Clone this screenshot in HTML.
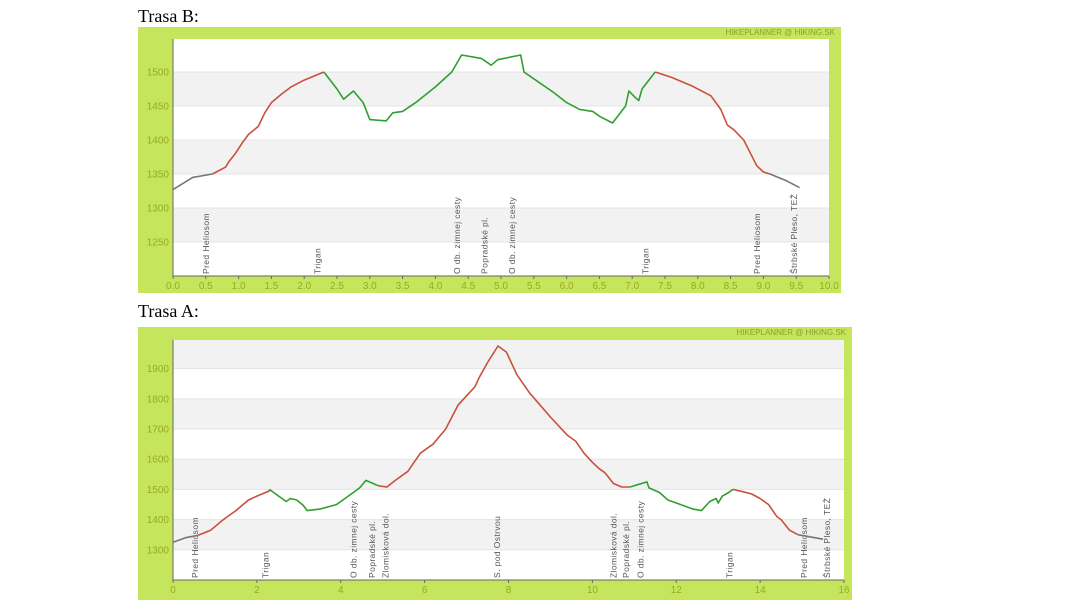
<!DOCTYPE html>
<html><head><meta charset="utf-8"><style>
html,body{margin:0;padding:0;background:#fff;width:1066px;height:600px;overflow:hidden}
svg{position:absolute;left:0;top:0}
</style></head><body>
<svg id="s" width="1066" height="600" xmlns="http://www.w3.org/2000/svg" font-family="Liberation Sans, DejaVu Sans, sans-serif"></svg>
<script>
var S=document.getElementById('s');var h='';
h+='<text x="138" y="22" font-family="Liberation Serif, serif" font-size="18" fill="#000">Trasa B:</text>';
h+='<text x="138" y="317" font-family="Liberation Serif, serif" font-size="18" fill="#000">Trasa A:</text>';
function chart(c){
 var X=function(k){return c.x0+k*(c.x1-c.x0)/c.kmax};
 var Y=function(v){return c.yb-(v-c.vmin)*(c.yb-c.yt)/(c.vmax-c.vmin)};
 h+='<rect x="'+c.fx0+'" y="'+c.fy0+'" width="'+(c.fx1-c.fx0)+'" height="'+(c.fy1-c.fy0)+'" fill="#c5e55c"/>';
 h+='<rect x="'+c.x0+'" y="'+c.yt+'" width="'+(c.x1-c.x0)+'" height="'+(c.yb-c.yt)+'" fill="#fff"/>';
 h+='<text x="'+(c.fx1-6)+'" y="'+(c.fy0+8)+'" font-size="8" fill="#8aa030" text-anchor="end">HIKEPLANNER @ HIKING.SK</text>';
 c.bands.forEach(function(b){h+='<rect x="'+c.x0+'" y="'+Y(b[1])+'" width="'+(c.x1-c.x0)+'" height="'+(Y(b[0])-Y(b[1]))+'" fill="#f2f2f2"/>';});
 c.yt_.forEach(function(v){var y=Y(v);h+='<line x1="'+c.x0+'" x2="'+c.x1+'" y1="'+y+'" y2="'+y+'" stroke="#e4e4e4"/>';
  h+='<text x="'+(c.x0-4)+'" y="'+(y+3.5)+'" font-size="10" fill="#9aaa20" text-anchor="end">'+v+'</text>';});
 h+='<line x1="'+c.x0+'" x2="'+c.x0+'" y1="'+c.yt+'" y2="'+c.yb+'" stroke="#666"/>';
 h+='<line x1="'+c.x0+'" x2="'+c.x1+'" y1="'+c.yb+'" y2="'+c.yb+'" stroke="#666"/>';
 c.xt.forEach(function(k){var x=X(k);h+='<line x1="'+x+'" x2="'+x+'" y1="'+c.yb+'" y2="'+(c.yb+3)+'" stroke="#666"/>';
  h+='<text x="'+x+'" y="'+(c.yb+13)+'" font-size="10" fill="#9aaa20" text-anchor="middle">'+(c.dec?k.toFixed(1):k)+'</text>';});
 c.labels.forEach(function(l){var x=X(l[0])+3;h+='<text transform="translate('+x+','+(c.yb-2)+') rotate(-90)" font-size="8.5" fill="#555" letter-spacing="0.4">'+l[1]+'</text>';});
 c.segs.forEach(function(sg){var p=sg[1].map(function(q){return X(q[0]).toFixed(1)+','+Y(q[1]).toFixed(1)}).join(' ');
  h+='<polyline points="'+p+'" fill="none" stroke="'+sg[0]+'" stroke-width="1.6" stroke-linejoin="round"/>';});
}
var R='#c9503c',G='#2ea02e',K='#777';
chart({fx0:138,fy0:27,fx1:841,fy1:293,x0:173,x1:829,kmax:10,yt:39,yb:276,vmin:1200,vmax:1548.5,dec:true,
 bands:[[1450,1500],[1350,1400],[1250,1300]],yt_:[1250,1300,1350,1400,1450,1500],
 xt:[0,0.5,1,1.5,2,2.5,3,3.5,4,4.5,5,5.5,6,6.5,7,7.5,8,8.5,9,9.5,10],
 labels:[[0.5,'Pred Heliosom'],[2.2,'Trigan'],[4.33,'O db. zimnej cesty'],[4.75,'Popradské pl.'],[5.17,'O db. zimnej cesty'],[7.2,'Trigan'],[8.9,'Pred Heliosom'],[9.47,'Štrbské Pleso, TEŽ']],
 segs:[[K,[[0,1327],[0.3,1345],[0.6,1350]]],
 [R,[[0.6,1350],[0.8,1360],[0.85,1368],[0.95,1380],[1.05,1395],[1.15,1408],[1.3,1420],[1.4,1440],[1.5,1455],[1.65,1467],[1.8,1478],[2.0,1488],[2.3,1500]]],
 [G,[[2.3,1500],[2.5,1475],[2.6,1460],[2.75,1472],[2.9,1455],[3.0,1430],[3.25,1428],[3.35,1440],[3.5,1442],[3.7,1455],[4.0,1478],[4.25,1500],[4.4,1525],[4.7,1520],[4.85,1510],[4.95,1518],[5.3,1525],[5.35,1500],[5.5,1490],[5.8,1470],[6.0,1455],[6.2,1445],[6.4,1442],[6.5,1435],[6.7,1425],[6.9,1450],[6.95,1472],[7.05,1462],[7.1,1458],[7.15,1475],[7.35,1500]]],
 [R,[[7.35,1500],[7.6,1492],[7.9,1480],[8.2,1465],[8.35,1445],[8.45,1422],[8.55,1415],[8.7,1400],[8.9,1362],[9.0,1353],[9.1,1350]]],
 [K,[[9.1,1350],[9.35,1340],[9.55,1330]]]]});
chart({fx0:138,fy0:327,fx1:852,fy1:600,x0:173,x1:844,kmax:16,yt:340,yb:580,vmin:1200,vmax:1995,dec:false,
 bands:[[1900,1995],[1700,1800],[1500,1600],[1300,1400]],yt_:[1300,1400,1500,1600,1700,1800,1900],
 xt:[0,2,4,6,8,10,12,14,16],
 labels:[[0.53,'Pred Heliosom'],[2.2,'Trigan'],[4.3,'O db. zimnej cesty'],[4.74,'Popradské pl.'],[5.07,'Zlomisková dol.'],[7.73,'S. pod Ostrvou'],[10.5,'Zlomisková dol.'],[10.8,'Popradské pl.'],[11.15,'O db. zimnej cesty'],[13.27,'Trigan'],[15.05,'Pred Heliosom'],[15.6,'Štrbské Pleso, TEŽ']],
 segs:[[K,[[0,1325],[0.3,1340],[0.6,1348]]],
 [R,[[0.6,1348],[0.9,1365],[1.2,1400],[1.5,1430],[1.8,1465],[2.0,1478],[2.3,1495],[2.3,1500]]],
 [G,[[2.3,1500],[2.5,1480],[2.7,1460],[2.8,1470],[2.95,1465],[3.1,1448],[3.2,1430],[3.5,1435],[3.9,1450],[4.3,1490],[4.45,1505],[4.6,1530],[4.9,1512]]],
 [R,[[4.9,1512],[5.1,1508],[5.3,1530],[5.6,1560],[5.7,1580],[5.9,1620],[6.2,1650],[6.5,1700],[6.8,1780],[7.0,1810],[7.2,1840],[7.3,1870],[7.5,1920],[7.75,1975],[7.95,1955],[8.2,1880],[8.5,1820],[9.0,1740],[9.4,1680],[9.6,1660],[9.8,1620],[10.0,1590],[10.15,1570],[10.3,1555],[10.5,1520],[10.7,1508],[10.9,1508]]],
 [G,[[10.9,1508],[11.3,1525],[11.35,1505],[11.6,1490],[11.8,1465],[12.1,1450],[12.4,1435],[12.6,1430],[12.8,1460],[12.95,1470],[13.0,1455],[13.1,1478],[13.25,1490],[13.35,1500]]],
 [R,[[13.35,1500],[13.6,1492],[13.8,1485],[14.0,1470],[14.2,1450],[14.4,1410],[14.5,1400],[14.7,1365],[14.9,1350]]],
 [K,[[14.9,1350],[15.3,1340],[15.5,1335]]]]});
S.innerHTML=h;
</script>
</body></html>
